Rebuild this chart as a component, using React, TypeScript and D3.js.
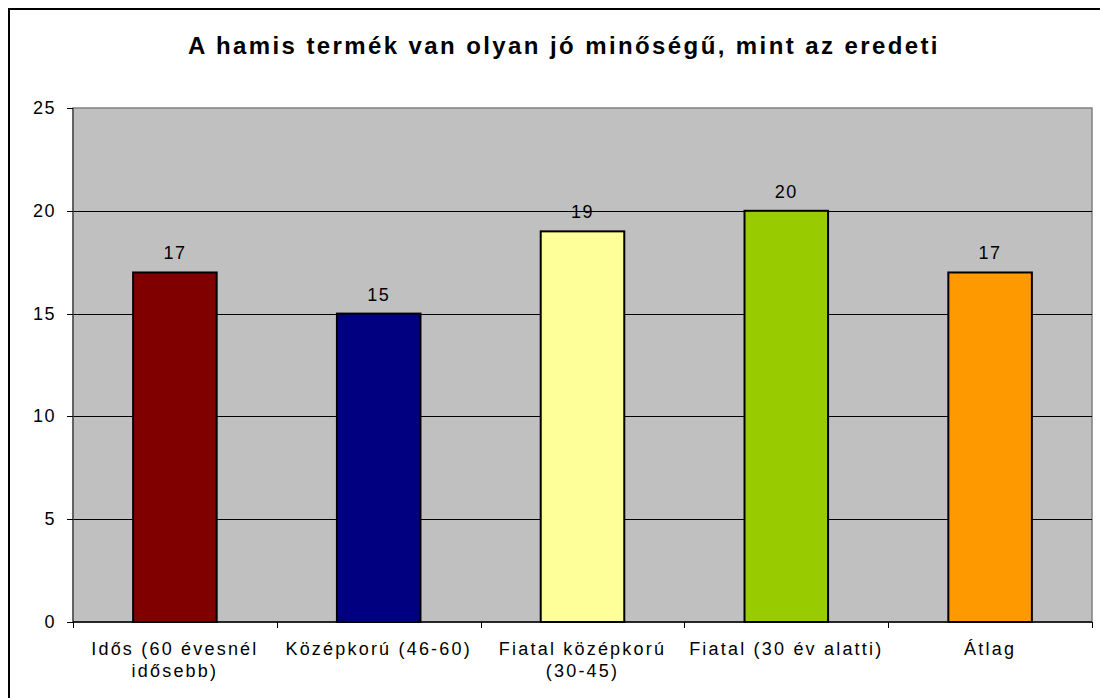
import React, { useEffect, useRef } from 'react';
import * as d3 from 'd3';

const categories = [
  ['Idős (60 évesnél', 'idősebb)'],
  ['Középkorú (46-60)'],
  ['Fiatal középkorú', '(30-45)'],
  ['Fiatal (30 év alatti)'],
  ['Átlag'],
];
const values = [17, 15, 19, 20, 17];
const barColors = ['#800000', '#000080', '#FFFF99', '#99CC00', '#FF9900'];
const yTicks = [0, 5, 10, 15, 20, 25];
const title = 'A hamis termék van olyan jó minőségű, mint az eredeti';

const App = () => {
  const ref = useRef<SVGSVGElement>(null);

  useEffect(() => {
    const svg = d3.select(ref.current);
    svg.selectAll('*').remove();

    const width = 1100;
    const height = 698;
    const left = 73;
    const right = 1092;
    const top = 108;
    const bottom = 622;
    const font = '"Liberation Sans", Arial, sans-serif';

    svg.append('rect')
      .attr('width', width)
      .attr('height', height)
      .attr('fill', '#fff');

    // outer chart border
    svg.append('rect')
      .attr('x', 9)
      .attr('y', 9)
      .attr('width', 1200)
      .attr('height', 900)
      .attr('fill', 'none')
      .attr('stroke', '#000')
      .attr('stroke-width', 2);

    const x = d3.scaleBand<number>()
      .domain(d3.range(categories.length))
      .range([left, right])
      .paddingInner(0.59)
      .paddingOuter(0.295);

    const y = d3.scaleLinear()
      .domain([0, 25])
      .range([bottom, top]);

    const step = x.step();

    // plot area
    svg.append('rect')
      .attr('x', left)
      .attr('y', top)
      .attr('width', right - left)
      .attr('height', bottom - top)
      .attr('fill', '#C0C0C0')
      .attr('stroke', '#808080')
      .attr('stroke-width', 1.5);

    // gridlines
    svg.selectAll('.grid')
      .data(yTicks.filter(t => t > 0 && t < 25))
      .enter()
      .append('line')
      .attr('x1', left)
      .attr('x2', right)
      .attr('y1', d => Math.round(y(d)) + 0.5)
      .attr('y2', d => Math.round(y(d)) + 0.5)
      .attr('stroke', '#000')
      .attr('stroke-width', 1);

    // bars
    svg.selectAll('.bar')
      .data(values)
      .enter()
      .append('rect')
      .attr('x', (d, i) => x(i))
      .attr('y', d => y(d))
      .attr('width', x.bandwidth())
      .attr('height', d => bottom - y(d))
      .attr('fill', (d, i) => barColors[i])
      .attr('stroke', '#000')
      .attr('stroke-width', 2);

    // value labels
    svg.selectAll('.val')
      .data(values)
      .enter()
      .append('text')
      .attr('x', (d, i) => x(i) + x.bandwidth() / 2)
      .attr('y', d => y(d) - 13)
      .attr('text-anchor', 'middle')
      .attr('font-family', font)
      .attr('font-size', 18)
      .attr('letter-spacing', 1.5)
      .attr('fill', '#000')
      .text(d => d);

    // axes
    svg.append('line')
      .attr('x1', left)
      .attr('x2', left)
      .attr('y1', top)
      .attr('y2', bottom)
      .attr('stroke', '#505050')
      .attr('stroke-width', 1.5);

    svg.append('line')
      .attr('x1', left)
      .attr('x2', right)
      .attr('y1', bottom)
      .attr('y2', bottom)
      .attr('stroke', '#000')
      .attr('stroke-width', 1.5);

    svg.selectAll('.ytick')
      .data(yTicks)
      .enter()
      .append('line')
      .attr('x1', left - 6)
      .attr('x2', left)
      .attr('y1', d => Math.round(y(d)) + 0.5)
      .attr('y2', d => Math.round(y(d)) + 0.5)
      .attr('stroke', '#000');

    svg.selectAll('.ylab')
      .data(yTicks)
      .enter()
      .append('text')
      .attr('x', left - 17)
      .attr('y', d => y(d) + 6)
      .attr('text-anchor', 'end')
      .attr('font-family', font)
      .attr('font-size', 18)
      .attr('letter-spacing', 1.5)
      .attr('fill', '#000')
      .text(d => d);

    svg.selectAll('.xtick')
      .data(d3.range(categories.length + 1))
      .enter()
      .append('line')
      .attr('x1', i => Math.round(left + i * step) + 0.5)
      .attr('x2', i => Math.round(left + i * step) + 0.5)
      .attr('y1', bottom)
      .attr('y2', bottom + 6)
      .attr('stroke', '#000');

    const labels = svg.selectAll('.xlab')
      .data(categories)
      .enter()
      .append('text')
      .attr('text-anchor', 'middle')
      .attr('font-family', font)
      .attr('font-size', 18)
      .attr('letter-spacing', 2.2)
      .attr('fill', '#000');

    labels.selectAll('tspan')
      .data((d, i) => d.map(line => ({ line, i })))
      .enter()
      .append('tspan')
      .attr('x', d => x(d.i) + x.bandwidth() / 2)
      .attr('y', (d, j) => bottom + 33 + j * 22)
      .text(d => d.line);

    svg.append('text')
      .attr('x', 564)
      .attr('y', 54)
      .attr('text-anchor', 'middle')
      .attr('font-family', font)
      .attr('font-size', 24)
      .attr('font-weight', 'bold')
      .attr('letter-spacing', 2.4)
      .attr('fill', '#000')
      .text(title);
  }, []);

  return (
    <svg ref={ref} width={1100} height={698}
      style={{ position: 'absolute', left: 0, top: 0 }} />
  );
};

export default App;
